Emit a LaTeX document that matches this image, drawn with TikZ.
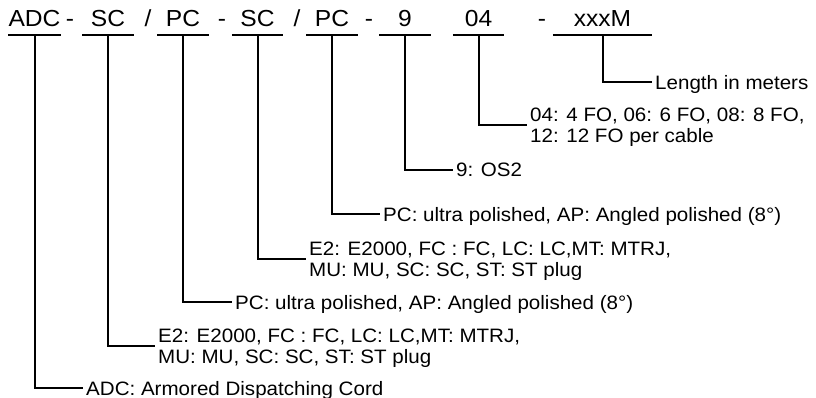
\documentclass[tikz,border=0pt]{standalone}
\usepackage{fontspec}
\setmainfont{Liberation Sans}[FakeStretch=1.06]
\usetikzlibrary{positioning}

\tikzset{
  code/.style={font=\fontsize{23.2}{26}\selectfont, anchor=base, inner xsep=0pt,
    inner ysep=8pt, text depth=0pt, minimum width=51pt},
  sepr/.style={font=\fontsize{23.2}{26}\selectfont, anchor=base, inner sep=0pt},
  desc/.style={font=\fontsize{19.4}{20.5}\selectfont, anchor=west, inner xsep=3pt,
    inner ysep=0pt, text depth=0pt, align=left},
  wire/.style={line width=2pt},
}

\begin{document}
\begin{tikzpicture}[x=1pt, y=-1pt]
    \useasboundingbox (0,0) rectangle (816,398);

    % Order code
    \node[code] (adc) at (34.5,27) {ADC};
    \node[code] (sca) at (108,27) {SC};
    \node[code] (pca) at (183,27) {PC};
    \node[code] (scb) at (257.5,27) {SC};
    \node[code] (pcb) at (332,27) {PC};
    \node[code] (fib) at (405,27) {9};
    \node[code] (cnt) at (478.5,27) {04};
    \node[code, minimum width=99pt] (len) at (602.5,27) {xxxM};

    % Separators
    \node[sepr] (s1) at (70,27) {-};
    \node[sepr] (s2) at (148,27) {/};
    \node[sepr] (s3) at (222,27) {-};
    \node[sepr] (s4) at (297,27) {/};
    \node[sepr] (s5) at (369,27) {-};
    \node[sepr] (s6) at (542,27) {-};

    % Meanings
    \node[desc] (adc-d) at (83,388) {ADC: Armored Dispatching Cord};
    \node[desc] (sca-d) at (155,346) {E2: E2000, FC : FC, LC: LC,MT: MTRJ,\\MU: MU, SC: SC, ST: ST plug};
    \node[desc] (pca-d) at (232,302) {PC: ultra polished, AP: Angled polished (8°)};
    \node[desc] (scb-d) at (306,259) {E2: E2000, FC : FC, LC: LC,MT: MTRJ,\\MU: MU, SC: SC, ST: ST plug};
    \node[desc] (pcb-d) at (380,214) {PC: ultra polished, AP: Angled polished (8°)};
    \node[desc] (fib-d) at (453,170) {9: OS2};
    \node[desc] (cnt-d) at (527,125) {04: 4 FO, 06: 6 FO, 08: 8 FO,\\12: 12 FO per cable};
    \node[desc] (len-d) at (652,82) {Length in meters};

    % Underlines and leaders
    \foreach \n in {adc,sca,pca,scb,pcb,fib,cnt,len} {
        \draw[wire] (\n.south west) -- (\n.south east);
        \draw[wire] (\n.south) |- (\n-d.west);
    }
\end{tikzpicture}
\end{document}
